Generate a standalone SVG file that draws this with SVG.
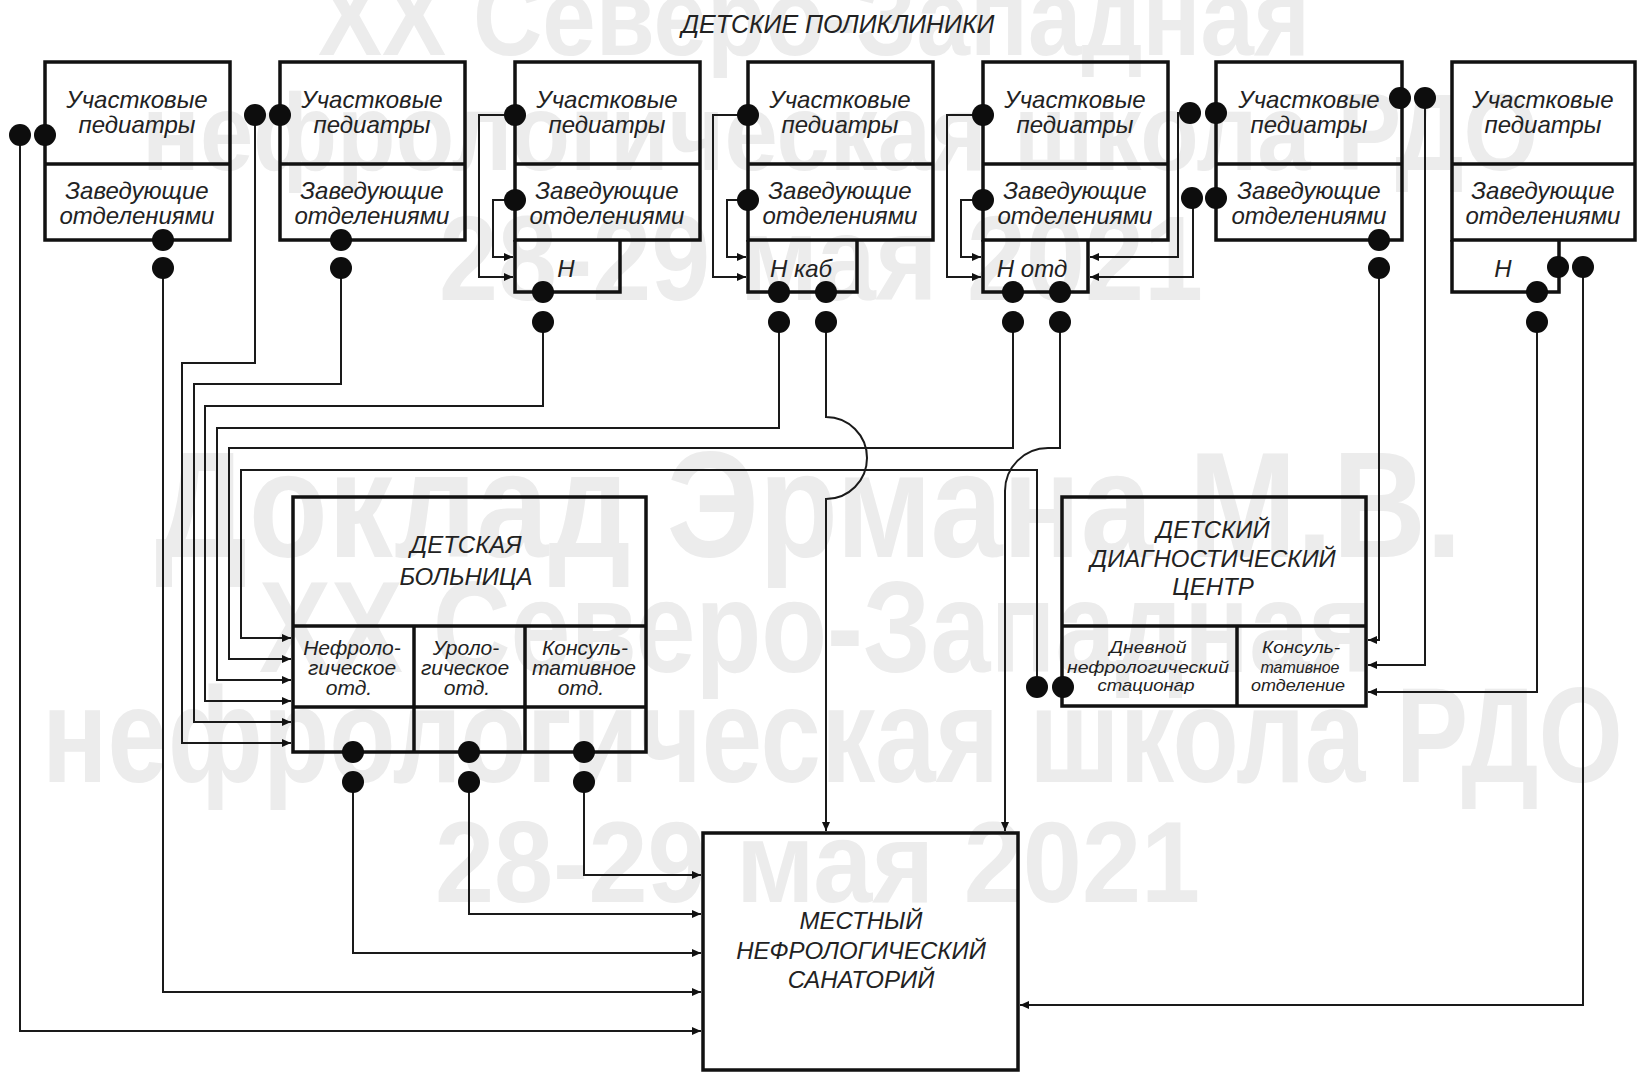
<svg xmlns="http://www.w3.org/2000/svg" width="1640" height="1073" viewBox="0 0 1640 1073">
<defs>
<style>
.wm{font-family:"Liberation Sans",Arial,sans-serif;font-weight:bold;fill:#ececec}
.box{fill:none;stroke:#111;stroke-width:3.5}
.dv{stroke:#111;stroke-width:3.5}
.ln{fill:none;stroke:#1a1a1a;stroke-width:2}
.ar{marker-end:url(#ah)}
.dot{fill:#0d0d0d}
.t{font-family:"Liberation Sans",Arial,sans-serif;font-style:italic;fill:#222;text-anchor:middle;font-size:24px}
.s{font-size:21px}
.xs{font-size:17px}
</style>
<marker id="ah" markerWidth="9" markerHeight="8" refX="9" refY="4" orient="auto" markerUnits="userSpaceOnUse"><path d="M0,0 L9,4 L0,8 z" fill="#111"/></marker>
</defs>
<rect width="1640" height="1073" fill="#fff"/>
<g id="watermark">
<text class="wm" x="318" y="55" font-size="110" textLength="992" lengthAdjust="spacingAndGlyphs">XX Северо-Западная</text>
<text class="wm" x="142" y="170" font-size="110" textLength="1396" lengthAdjust="spacingAndGlyphs">нефрологическая школа РДО</text>
<text class="wm" x="439" y="300" font-size="120" textLength="764" lengthAdjust="spacingAndGlyphs">28-29 мая 2021</text>
<text class="wm" x="155" y="557" font-size="150" textLength="1307" lengthAdjust="spacingAndGlyphs">Доклад Эрмана М.В.</text>
<text class="wm" x="259" y="672" font-size="130" textLength="1113" lengthAdjust="spacingAndGlyphs">XX Северо-Западная</text>
<text class="wm" x="42" y="782" font-size="135" textLength="1581" lengthAdjust="spacingAndGlyphs">нефрологическая школа РДО</text>
<text class="wm" x="435" y="902" font-size="115" textLength="765" lengthAdjust="spacingAndGlyphs">28-29 мая 2021</text>
</g>
<g id="title"><text class="t" x="838" y="33" textLength="313" style="font-size:25px">ДЕТСКИЕ ПОЛИКЛИНИКИ</text></g>

<g id="connectors">
<path class="ln ar" d="M20,135 V1031 H701"/>
<path class="ln ar" d="M163,268 V992 H701"/>
<path class="ln ar" d="M255,115 V363 H182 V743 H291"/>
<path class="ln ar" d="M341,268 V384 H194 V722 H291"/>
<path class="ln ar" d="M543,322 V406 H205 V701 H291"/>
<path class="ln ar" d="M779,322 V428 H217 V680 H291"/>
<path class="ln ar" d="M1013,322 V448 H229 V659 H291"/>
<path class="ln ar" d="M1037,687 V470 H241 V638 H291"/>
<path class="ln ar" d="M826,322 V417 A41,41 0 0 1 826,499 V831"/>
<path class="ln ar" d="M1060,322 V448 H1048 A43,43 0 0 0 1005,491 V831"/>
<path class="ln ar" d="M515,115 H479 V277 H513"/>
<path class="ln ar" d="M515,200 H493 V257 H513"/>
<path class="ln ar" d="M748,115 H713 V277 H746"/>
<path class="ln ar" d="M748,200 H727 V257 H746"/>
<path class="ln ar" d="M983,115 H947 V277 H981"/>
<path class="ln ar" d="M983,200 H961 V257 H981"/>
<path class="ln ar" d="M1190,113 H1178 V257 H1090"/>
<path class="ln ar" d="M1193,198 V277 H1090"/>
<path class="ln ar" d="M1379,268 V640 H1368"/>
<path class="ln ar" d="M1425,98 V665 H1368"/>
<path class="ln ar" d="M1537,322 V692 H1368"/>
<path class="ln ar" d="M1583,267 V1005 H1020"/>
<path class="ln ar" d="M584,782 V875 H701"/>
<path class="ln ar" d="M469,782 V914 H701"/>
<path class="ln ar" d="M353,782 V953 H701"/>
</g>

<g id="poly1">
<rect class="box" x="45" y="62" width="185" height="178"/><line class="dv" x1="45" y1="164" x2="230" y2="164"/>
<text class="t" x="137" y="108">Участковые</text><text class="t" x="137" y="133">педиатры</text>
<text class="t" x="137" y="199">Заведующие</text><text class="t" x="137" y="224">отделениями</text>
</g>
<g id="poly2">
<rect class="box" x="280" y="62" width="185" height="178"/><line class="dv" x1="280" y1="164" x2="465" y2="164"/>
<text class="t" x="372" y="108">Участковые</text><text class="t" x="372" y="133">педиатры</text>
<text class="t" x="372" y="199">Заведующие</text><text class="t" x="372" y="224">отделениями</text>
</g>
<g id="poly3">
<rect class="box" x="515" y="62" width="185" height="178"/><line class="dv" x1="515" y1="164" x2="700" y2="164"/>
<polyline class="box" points="515,240 515,292 620,292 620,240"/>
<text class="t" x="607" y="108">Участковые</text><text class="t" x="607" y="133">педиатры</text>
<text class="t" x="607" y="199">Заведующие</text><text class="t" x="607" y="224">отделениями</text>
<text class="t" x="566" y="277">Н</text>
</g>
<g id="poly4">
<rect class="box" x="748" y="62" width="185" height="178"/><line class="dv" x1="748" y1="164" x2="933" y2="164"/>
<polyline class="box" points="748,240 748,292 857,292 857,240"/>
<text class="t" x="840" y="108">Участковые</text><text class="t" x="840" y="133">педиатры</text>
<text class="t" x="840" y="199">Заведующие</text><text class="t" x="840" y="224">отделениями</text>
<text class="t" x="801" y="277">Н каб</text>
</g>
<g id="poly5">
<rect class="box" x="983" y="62" width="185" height="178"/><line class="dv" x1="983" y1="164" x2="1168" y2="164"/>
<polyline class="box" points="983,240 983,292 1088,292 1088,240"/>
<text class="t" x="1075" y="108">Участковые</text><text class="t" x="1075" y="133">педиатры</text>
<text class="t" x="1075" y="199">Заведующие</text><text class="t" x="1075" y="224">отделениями</text>
<text class="t" x="1032" y="277">Н отд</text>
</g>
<g id="poly6">
<rect class="box" x="1216" y="62" width="186" height="178"/><line class="dv" x1="1216" y1="164" x2="1402" y2="164"/>
<text class="t" x="1309" y="108">Участковые</text><text class="t" x="1309" y="133">педиатры</text>
<text class="t" x="1309" y="199">Заведующие</text><text class="t" x="1309" y="224">отделениями</text>
</g>
<g id="poly7">
<rect class="box" x="1452" y="62" width="183" height="178"/><line class="dv" x1="1452" y1="164" x2="1635" y2="164"/>
<polyline class="box" points="1452,240 1452,292 1559,292 1559,240"/>
<text class="t" x="1543" y="108">Участковые</text><text class="t" x="1543" y="133">педиатры</text>
<text class="t" x="1543" y="199">Заведующие</text><text class="t" x="1543" y="224">отделениями</text>
<text class="t" x="1503" y="277">Н</text>
</g>

<g id="hospital">
<rect class="box" x="293" y="497" width="353" height="255"/>
<line class="dv" x1="293" y1="626" x2="646" y2="626"/>
<line class="dv" x1="293" y1="707" x2="646" y2="707"/>
<line class="dv" x1="414" y1="626" x2="414" y2="752"/>
<line class="dv" x1="525" y1="626" x2="525" y2="752"/>
<text class="t" x="466" y="553">ДЕТСКАЯ</text>
<text class="t" x="466" y="585">БОЛЬНИЦА</text>
<text class="t s" x="352" y="655">Нефроло-</text><text class="t s" x="352" y="675">гическое</text><text class="t s" x="349" y="695">отд.</text>
<text class="t s" x="466" y="655">Уроло-</text><text class="t s" x="465" y="675">гическое</text><text class="t s" x="467" y="695">отд.</text>
<text class="t s" x="585" y="655">Консуль-</text><text class="t s" x="584" y="675">тативное</text><text class="t s" x="581" y="695">отд.</text>
</g>

<g id="diagcenter">
<rect class="box" x="1062" y="497" width="304" height="209"/>
<line class="dv" x1="1062" y1="626" x2="1366" y2="626"/>
<line class="dv" x1="1237" y1="626" x2="1237" y2="706"/>
<text class="t" x="1213" y="538">ДЕТСКИЙ</text>
<text class="t" x="1213" y="567">ДИАГНОСТИЧЕСКИЙ</text>
<text class="t" x="1213" y="595">ЦЕНТР</text>
<text class="t xs" x="1148" y="653" textLength="77" lengthAdjust="spacingAndGlyphs">Дневной</text>
<text class="t xs" x="1148" y="673" textLength="162" lengthAdjust="spacingAndGlyphs">нефрологический</text>
<text class="t xs" x="1146" y="691" textLength="97" lengthAdjust="spacingAndGlyphs">стационар</text>
<text class="t xs" x="1301" y="653" textLength="78" lengthAdjust="spacingAndGlyphs">Консуль-</text>
<text class="t xs" x="1300" y="673" textLength="79" lengthAdjust="spacingAndGlyphs">тативное</text>
<text class="t xs" x="1298" y="691" textLength="94" lengthAdjust="spacingAndGlyphs">отделение</text>
</g>

<g id="sanatorium">
<rect class="box" x="703" y="833" width="315" height="237"/>
<text class="t" x="861" y="929">МЕСТНЫЙ</text>
<text class="t" x="861" y="959">НЕФРОЛОГИЧЕСКИЙ</text>
<text class="t" x="861" y="988">САНАТОРИЙ</text>
</g>

<g id="dots">
<circle class="dot" cx="20" cy="135" r="11"/><circle class="dot" cx="45" cy="135" r="11"/>
<circle class="dot" cx="163" cy="240" r="11"/><circle class="dot" cx="163" cy="268" r="11"/>
<circle class="dot" cx="255" cy="115" r="11"/><circle class="dot" cx="280" cy="115" r="11"/>
<circle class="dot" cx="341" cy="240" r="11"/><circle class="dot" cx="341" cy="268" r="11"/>
<circle class="dot" cx="515" cy="115" r="11"/><circle class="dot" cx="515" cy="200" r="11"/>
<circle class="dot" cx="543" cy="292" r="11"/><circle class="dot" cx="543" cy="322" r="11"/>
<circle class="dot" cx="748" cy="115" r="11"/><circle class="dot" cx="748" cy="200" r="11"/>
<circle class="dot" cx="779" cy="292" r="11"/><circle class="dot" cx="779" cy="322" r="11"/>
<circle class="dot" cx="826" cy="292" r="11"/><circle class="dot" cx="826" cy="322" r="11"/>
<circle class="dot" cx="983" cy="115" r="11"/><circle class="dot" cx="983" cy="200" r="11"/>
<circle class="dot" cx="1013" cy="292" r="11"/><circle class="dot" cx="1013" cy="322" r="11"/>
<circle class="dot" cx="1060" cy="292" r="11"/><circle class="dot" cx="1060" cy="322" r="11"/>
<circle class="dot" cx="1190" cy="113" r="11"/><circle class="dot" cx="1216" cy="113" r="11"/>
<circle class="dot" cx="1192" cy="198" r="11"/><circle class="dot" cx="1216" cy="198" r="11"/>
<circle class="dot" cx="1400" cy="98" r="11"/><circle class="dot" cx="1425" cy="98" r="11"/>
<circle class="dot" cx="1379" cy="240" r="11"/><circle class="dot" cx="1379" cy="268" r="11"/>
<circle class="dot" cx="1558" cy="267" r="11"/><circle class="dot" cx="1583" cy="267" r="11"/>
<circle class="dot" cx="1537" cy="292" r="11"/><circle class="dot" cx="1537" cy="322" r="11"/>
<circle class="dot" cx="1037" cy="687" r="11"/><circle class="dot" cx="1063" cy="687" r="11"/>
<circle class="dot" cx="353" cy="752" r="11"/><circle class="dot" cx="353" cy="782" r="11"/>
<circle class="dot" cx="469" cy="752" r="11"/><circle class="dot" cx="469" cy="782" r="11"/>
<circle class="dot" cx="584" cy="752" r="11"/><circle class="dot" cx="584" cy="782" r="11"/>
</g>
</svg>
